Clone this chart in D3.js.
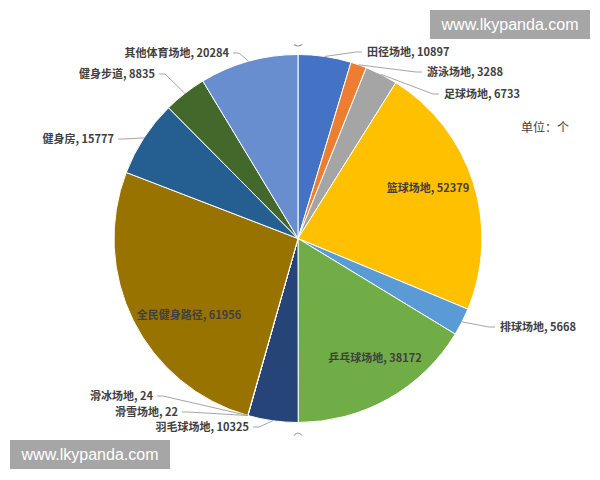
<!DOCTYPE html>
<html>
<head>
<meta charset="utf-8">
<script src="https://cdn.jsdelivr.net/npm/d3@7"></script>
<style>
  body { margin: 0; background: #fff; }
  .lbl { font-family: "Noto Sans CJK SC", sans-serif; font-size: 11px; font-weight: 600; fill: #404040; }
  .wm { font-family: "Liberation Sans", Arial, sans-serif; font-size: 16px; fill: #fff; }
</style>
</head>
<body>
<div id="chart"></div>
<script>
// data
const categories = ['田径场地', '游泳场地', '足球场地', '篮球场地', '排球场地', '乒乓球场地', '羽毛球场地',
  '滑雪场地', '滑冰场地', '全民健身路径', '健身房', '健身步道', '其他体育场地'];
const counts = [10897, 3288, 6733, 52379, 5668, 38172, 10325, 22, 24, 61956, 15777, 8835, 20284];
const colors = ['#4472c4', '#ed7d31', '#a5a5a5', '#ffc000', '#5b9bd5', '#70ad47', '#264478',
  '#9e480e', '#636363', '#997300', '#255e91', '#43682b', '#698ed0'];
const unitText = '单位：个';
const watermark = 'www.lkypanda.com';

// label layout (x, y of text anchor, inside = centred in slice)
const labelLayout = [
  {x: 367, y: 52, anchor: 'start'},
  {x: 427, y: 72, anchor: 'start'},
  {x: 444, y: 94, anchor: 'start'},
  {x: 428, y: 188, anchor: 'middle', inside: true},
  {x: 500, y: 327, anchor: 'start'},
  {x: 375, y: 358, anchor: 'middle', inside: true},
  {x: 249, y: 427, anchor: 'end'},
  {x: 178, y: 412, anchor: 'end'},
  {x: 153, y: 396, anchor: 'end'},
  {x: 189, y: 315, anchor: 'middle', inside: true},
  {x: 114, y: 139, anchor: 'end'},
  {x: 155, y: 74, anchor: 'end'},
  {x: 229, y: 53, anchor: 'end'}
];

const width = 600, height = 480;
const cx = 298, cy = 238.5, radius = 184;

const svg = d3.select('#chart').append('svg')
    .attr('width', width)
    .attr('height', height);

const data = categories.map((c, i) => ({name: c, value: counts[i], color: colors[i], layout: labelLayout[i]}));

const pie = d3.pie()
    .sort(null)
    .value(d => d.value);

const arc = d3.arc()
    .innerRadius(0)
    .outerRadius(radius);

const edgeArc = d3.arc()
    .innerRadius(radius)
    .outerRadius(radius);

const g = svg.append('g')
    .attr('transform', `translate(${cx},${cy})`);

const arcs = pie(data);

g.selectAll('path.slice')
  .data(arcs)
  .enter().append('path')
    .attr('class', 'slice')
    .attr('d', arc)
    .attr('fill', d => d.data.color)
    .attr('stroke', '#fff')
    .attr('stroke-width', 1);

// leader lines for outside labels
g.selectAll('path.leader')
  .data(arcs.filter(d => !d.data.layout.inside))
  .enter().append('path')
    .attr('class', 'leader')
    .attr('fill', 'none')
    .attr('stroke', '#a6a6a6')
    .attr('stroke-width', 1)
    .attr('d', d => {
      const L = d.data.layout;
      const p = edgeArc.centroid(d);
      const sx = (L.anchor === 'start' ? L.x - 5 : L.x + 4) - cx;
      const sy = L.y - cy;
      const hx = L.anchor === 'start' ? sx - 6 : sx + 6;
      return `M${sx},${sy}L${hx},${sy}L${p[0]},${p[1]}`;
    });

// labels
svg.selectAll('text.lbl')
  .data(data)
  .enter().append('text')
    .attr('class', 'lbl')
    .attr('x', d => d.layout.x)
    .attr('y', d => d.layout.y)
    .attr('dy', '0.35em')
    .attr('text-anchor', d => d.layout.anchor)
    .text(d => `${d.name}, ${d.value}`);

// small handle marks above and below the pie
svg.append('path')
    .attr('d', `M${cx - 4},${cy - radius - 10} Q${cx},${cy - radius - 7} ${cx + 4},${cy - radius - 10}`)
    .attr('fill', 'none').attr('stroke', '#999').attr('stroke-width', 1.2);
svg.append('path')
    .attr('d', `M${cx - 4},${cy + radius + 13} Q${cx},${cy + radius + 8} ${cx + 4},${cy + radius + 13}`)
    .attr('fill', 'none').attr('stroke', '#999').attr('stroke-width', 1.2);

// unit
svg.append('text')
    .attr('class', 'lbl')
    .attr('x', 521)
    .attr('y', 128)
    .attr('dy', '0.35em')
    .style('font-weight', 400)
    .style('font-size', '12px')
    .text(unitText);

// watermarks
[[430, 10], [10, 440]].forEach(([x, y]) => {
  svg.append('rect')
      .attr('x', x).attr('y', y)
      .attr('width', 160).attr('height', 29)
      .attr('fill', '#a6a6a6');
  svg.append('text')
      .attr('class', 'wm')
      .attr('x', x + 80).attr('y', y + 14.5)
      .attr('dy', '0.35em')
      .attr('text-anchor', 'middle')
      .text(watermark);
});
</script>
</body>
</html>
